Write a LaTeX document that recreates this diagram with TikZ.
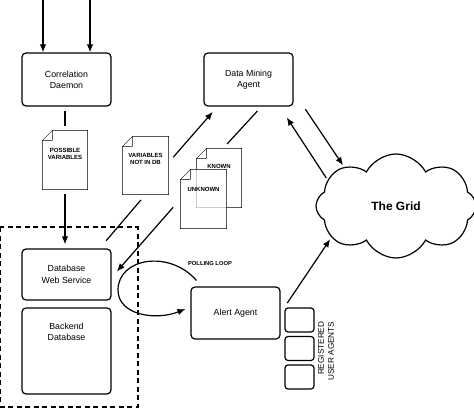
\documentclass[tikz,border=0pt]{standalone}
\usepackage{fontspec}
\setmainfont{Liberation Sans}
\usetikzlibrary{arrows.meta,shapes.symbols,backgrounds,positioning}

\begin{document}
\begin{tikzpicture}[->,>={Latex[length=8pt,width=6.5pt]},line width=1.2pt,x=1pt,y=-1pt,
    box/.style={draw,-,rounded corners=4pt,minimum width=89pt,minimum height=53pt,align=center,font=\fontsize{8.8}{11}\selectfont},
    paper/.style={minimum width=44pt,minimum height=58pt,inner sep=0pt,align=center,font=\bfseries\fontsize{6}{7.5}\selectfont},
    sheet/.style={draw,-,fill=white},
    userbox/.style={draw,-,rounded corners=3pt,minimum width=29pt,minimum height=24pt,inner sep=0pt}]

\useasboundingbox (0,0) rectangle (474,409);

\node [box] (cd) at (66.5,79.5) {Correlation\\Daemon};
\node [box] (dma) at (248.5,79.5) {Data Mining\\Agent};
\node [box,minimum height=51pt,font=\fontsize{8.8}{12}\selectfont] (dbws) at (66.5,274.5) {Database\\Web Service};
\node [box,minimum height=86pt] (bdb) at (66.5,351) {};
\node [below=12pt of bdb.north,align=center,font=\fontsize{8.8}{11}\selectfont] (bdbtext) {Backend\\Database};
\node [box,minimum height=52pt] (alert) at (235.5,313) {Alert Agent};

\node [paper,text depth=12pt] (possible) at (65,160) {POSSIBLE\\VARIABLES};
\node [paper,minimum width=45pt,minimum height=57pt,text depth=13pt] (notindb) at (145.5,165.5) {VARIABLES\\NOT IN DB};
\node [paper,text depth=24pt] (known) at (219,178) {KNOWN};
\node [paper,minimum width=45pt,text depth=20pt] (unknown) at (203.5,199) {UNKNOWN};

\node [cloud,draw,-,cloud puffs=8,cloud puff arc=125,aspect=1.55,minimum width=160pt,minimum height=104pt,inner sep=0pt,font=\bfseries\fontsize{12}{14}\selectfont] (grid) at (396,206) {The Grid};

\foreach \i/\y in {1/320,2/348.5,3/377}
    \node [userbox] (ua\i) at (299.5,\y) {};
\node [rotate=90,align=right,font=\fontsize{8.2}{10}\selectfont] (regtext) at (326,351) {REGISTERED\\USER AGENTS};

\node [font=\bfseries\fontsize{5.8}{7}\selectfont] (polltext) at (210,264) {POLLING LOOP};

\begin{scope}[on background layer]
\foreach \p/\f in {possible/1,notindb/1,known/1,unknown/0.7}
    \draw [sheet,fill opacity=\f] (\p.north west) ++(0,10) -- ++(10,-10) -- (\p.north east) -- (\p.south east) -- (\p.south west) -- cycle
        (\p.north west) ++(0,10) -- ++(10,0) -- ++(0,-10);
\end{scope}

\draw [-,line width=2pt,dash pattern=on 5pt off 3.5pt] ([shift={(-21,-21)}]dbws.north west) rectangle ([shift={(26,12)}]bdb.south east);

\coordinate (in1) at (43,0);
\coordinate (in2) at (90,0);
\draw (in1) -- (in1 |- cd.north);
\draw (in2) -- (in2 |- cd.north);

\path [draw,-,shorten <=4pt,shorten >=4pt] (possible.north |- cd.south) -- (possible.north);
\draw [shorten <=4pt,shorten >=4pt] (possible.south) -- (possible.south |- dbws.north);

\path [draw,-,shorten <=10pt,shorten >=7pt] ([xshift=-12pt]dbws.north east) -- (notindb.south);
\draw [shorten <=7pt,shorten >=7pt] ([yshift=3pt]notindb.east) -- ([xshift=14pt]dma.south west);

\path [draw,-,shorten <=6pt,shorten >=6pt] ([xshift=13pt]dma.south) -- ([xshift=4pt]known.north);
\draw [shorten <=11pt,shorten >=8pt] (unknown.west) -- ([yshift=-3pt]dbws.east);

\draw [shorten <=3pt,shorten >=2pt] ([xshift=10pt]dma.south east) -- (grid.143);
\draw [shorten <=2pt,shorten >=13pt] (grid.159) -- ([xshift=-14pt]dma.south east);
\draw [shorten <=12pt,shorten >=2pt] (alert.east) -- (grid.206);

\coordinate (loopleft) at (118,290);
\draw ([shift={(6pt,6pt)}]alert.north west) .. controls +(-27,-31) and +(0,-32) .. (loopleft)
    .. controls +(0,25) and +(-30,12) .. ([shift={(-5pt,4pt)}]alert.west);

\end{tikzpicture}
\end{document}
